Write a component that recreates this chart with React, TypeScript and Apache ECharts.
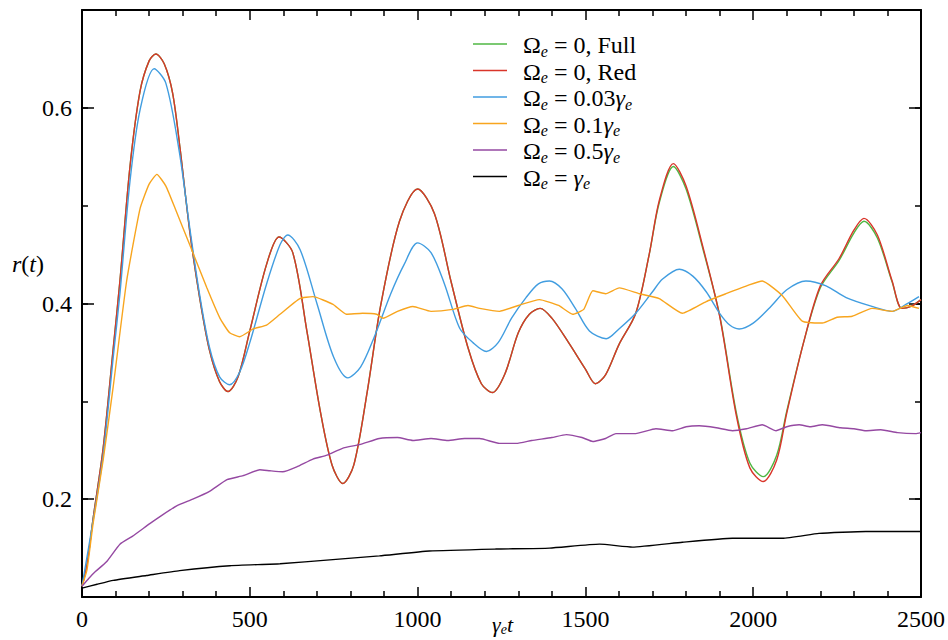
import React, { useEffect, useRef } from "react";
import * as echarts from "echarts";

// time grids and values (gamma_e t, r(t))
const tCoh = [0,15,33,63,93,113,143,173,200,220,245,270,292,321,351,380,410,435,465,500,550,587,628,670,710,745,777,810,850,890,946,1000,1050,1100,1150,1190,1223,1260,1300,1333,1365,1400,1450,1500,1530,1560,1600,1650,1690,1720,1762,1800,1850,1900,1950,1990,2030,2070,2100,2150,2200,2256,2300,2330,2370,2414,2443,2470,2500];
const fullV = [0.111,0.133,0.18,0.252,0.354,0.423,0.54,0.617,0.648,0.655,0.645,0.615,0.559,0.474,0.405,0.352,0.32,0.31,0.325,0.372,0.44,0.468,0.452,0.372,0.29,0.235,0.216,0.235,0.31,0.398,0.484,0.517,0.492,0.422,0.355,0.318,0.309,0.328,0.37,0.389,0.395,0.385,0.36,0.333,0.318,0.327,0.358,0.39,0.45,0.503,0.540,0.517,0.456,0.388,0.288,0.237,0.223,0.245,0.29,0.36,0.416,0.444,0.472,0.484,0.467,0.422,0.395,0.397,0.404];
const redV = [0.111,0.133,0.18,0.252,0.354,0.423,0.54,0.617,0.648,0.655,0.645,0.615,0.559,0.474,0.405,0.352,0.32,0.31,0.325,0.372,0.44,0.468,0.452,0.372,0.29,0.235,0.216,0.235,0.31,0.398,0.484,0.517,0.492,0.422,0.355,0.318,0.309,0.328,0.37,0.389,0.395,0.385,0.36,0.333,0.318,0.327,0.358,0.39,0.45,0.505,0.543,0.52,0.458,0.387,0.285,0.232,0.218,0.24,0.288,0.36,0.418,0.446,0.475,0.487,0.47,0.423,0.395,0.397,0.404];

const blueT = [0,33,63,93,113,143,173,215,250,290,320,350,380,410,440,470,500,550,590,613,650,700,750,792,830,870,920,960,1000,1040,1080,1125,1165,1205,1240,1280,1323,1360,1393,1430,1470,1512,1562,1600,1650,1700,1730,1780,1820,1860,1900,1930,1958,2000,2050,2100,2157,2217,2277,2354,2414,2455,2494];
const blueV = [0.111,0.178,0.245,0.345,0.41,0.525,0.598,0.640,0.625,0.555,0.48,0.41,0.355,0.325,0.317,0.33,0.36,0.42,0.46,0.470,0.455,0.40,0.345,0.324,0.335,0.365,0.41,0.44,0.462,0.452,0.42,0.375,0.36,0.351,0.36,0.385,0.406,0.42,0.423,0.415,0.395,0.372,0.364,0.374,0.39,0.412,0.425,0.435,0.428,0.412,0.39,0.378,0.374,0.38,0.396,0.414,0.423,0.418,0.406,0.397,0.392,0.399,0.407];

const orangeT = [0,15,33,63,93,133,173,200,223,250,280,321,372,411,440,470,510,550,590,649,688,748,788,836,878,897,940,986,1040,1105,1150,1185,1244,1300,1363,1420,1462,1495,1522,1560,1601,1661,1720,1789,1860,1919,1988,2027,2087,2146,2206,2250,2295,2354,2414,2460,2494];
const orangeV = [0.111,0.128,0.175,0.24,0.315,0.423,0.497,0.522,0.532,0.52,0.495,0.46,0.416,0.385,0.37,0.366,0.374,0.378,0.389,0.405,0.407,0.399,0.389,0.39,0.389,0.385,0.392,0.397,0.392,0.394,0.398,0.395,0.392,0.398,0.404,0.398,0.389,0.394,0.413,0.41,0.416,0.41,0.405,0.39,0.402,0.41,0.419,0.423,0.408,0.382,0.38,0.386,0.387,0.395,0.392,0.398,0.395];

const purpleT = [0,20,40,73,113,150,202,240,281,330,380,432,480,530,560,598,640,688,730,776,830,886,940,986,1040,1090,1140,1185,1244,1294,1340,1400,1443,1490,1522,1560,1591,1650,1710,1760,1800,1839,1890,1938,1980,2027,2068,2100,2137,2170,2206,2260,2300,2336,2380,2430,2484,2500];
const purpleV = [0.111,0.119,0.126,0.136,0.154,0.162,0.175,0.184,0.193,0.2,0.208,0.22,0.224,0.23,0.229,0.228,0.233,0.241,0.245,0.252,0.256,0.262,0.263,0.26,0.262,0.26,0.262,0.262,0.257,0.257,0.26,0.263,0.266,0.263,0.259,0.262,0.267,0.267,0.272,0.27,0.274,0.275,0.273,0.27,0.272,0.276,0.27,0.274,0.276,0.274,0.276,0.273,0.272,0.27,0.271,0.268,0.267,0.268];

const blackT = [0,45,93,192,291,441,590,738,886,1035,1234,1393,1542,1640,1789,1938,2087,2196,2336,2484,2500];
const blackV = [0.109,0.113,0.117,0.122,0.127,0.132,0.134,0.138,0.142,0.147,0.149,0.15,0.154,0.151,0.156,0.16,0.16,0.165,0.167,0.167,0.167];

const seriesNames = ["full", "red", "w003", "w01", "w05", "w1"];
const legendLabels: Record<string, string> = {
  full: "{sp| }{t|Ω}{s|e}{t| = 0, Full}",
  red: "{sp| }{t|Ω}{s|e}{t| = 0, Red}",
  w003: "{sp| }{t|Ω}{s|e}{t| = 0.03}{i|γ}{s|e}",
  w01: "{sp| }{t|Ω}{s|e}{t| = 0.1}{i|γ}{s|e}",
  w05: "{sp| }{t|Ω}{s|e}{t| = 0.5}{i|γ}{s|e}",
  w1: "{sp| }{t|Ω}{s|e}{t| = }{i|γ}{s|e}",
};
const colors = ["#4fb743", "#d9352a", "#419de0", "#f8a51e", "#9549a2", "#000000"];
const xTicks = { min: 0, max: 2500, interval: 500 };
const yMajor = [0.2, 0.4, 0.6];

const FONT = "'Liberation Serif', 'DejaVu Serif', serif";

function pairs(t: number[], v: number[]) {
  return t.map((x, i) => [x, v[i]]);
}

export default function App() {
  const ref = useRef<HTMLDivElement>(null);
  useEffect(() => {
    if (!ref.current) return;
    const chart = echarts.init(ref.current, null, { renderer: "svg" });
    const axisLine = { show: true, lineStyle: { color: "#000", width: 2 } };
    const yBase = { type: "value", min: 0.1, max: 0.7, splitLine: { show: false } };
    const data = [
      pairs(tCoh, fullV),
      pairs(tCoh, redV),
      pairs(blueT, blueV),
      pairs(orangeT, orangeV),
      pairs(purpleT, purpleV),
      pairs(blackT, blackV),
    ];
    const rich = {
      sp: { width: 11 },
      t: { fontSize: 24, fontFamily: FONT, color: "#000", lineHeight: 22, verticalAlign: "top" },
      i: { fontSize: 24, fontFamily: FONT, fontStyle: "italic", color: "#000", lineHeight: 22, verticalAlign: "top" },
      s: { fontSize: 16, fontFamily: FONT, fontStyle: "italic", color: "#000", lineHeight: 14, padding: [10, 0, 0, 0], verticalAlign: "top" },
    };
    chart.setOption({
      animation: false,
      backgroundColor: "#fff",
      grid: { left: 82, right: 26, top: 10, bottom: 43, containLabel: false },
      legend: {
        orient: "vertical",
        left: 468,
        top: 28,
        itemWidth: 34,
        itemHeight: 1.6,
        itemGap: 0.5,
        icon: "rect",
        data: seriesNames,
        formatter: (n: string) => legendLabels[n],
        textStyle: { rich },
      },
      xAxis: [
        {
          type: "value", position: "bottom", ...xTicks,
          axisLine, splitLine: { show: false },
          axisTick: { inside: true, length: 10, lineStyle: { color: "#000", width: 1.5 } },
          minorTick: { show: true, splitNumber: 5, length: 6, lineStyle: { color: "#000", width: 1.5 } },
          axisLabel: { color: "#000", fontSize: 24, fontFamily: FONT, margin: 10, formatter: (v: number) => String(v) },
        },
        {
          type: "value", position: "top", ...xTicks,
          axisLine, splitLine: { show: false },
          axisTick: { inside: true, length: 10, lineStyle: { color: "#000", width: 1.5 } },
          minorTick: { show: true, splitNumber: 5, length: 6, lineStyle: { color: "#000", width: 1.5 } },
          axisLabel: { show: false },
        },
      ],
      yAxis: [
        {
          ...yBase, position: "left", interval: 0.1,
          axisLine,
          axisTick: { inside: true, length: 6, lineStyle: { color: "#000", width: 1.5 } },
          axisLabel: {
            color: "#000", fontSize: 24, fontFamily: FONT, margin: 10,
            formatter: (v: number) => (Math.round(v * 10) % 2 === 0 ? v.toFixed(1) : ""),
          },
        },
        {
          ...yBase, position: "left",
          axisLine: { show: false },
          axisTick: { inside: true, length: 12, customValues: yMajor, lineStyle: { color: "#000", width: 1.5 } },
          axisLabel: { show: false, customValues: yMajor },
        },
        {
          ...yBase, position: "right", interval: 0.1,
          axisLine,
          axisTick: { inside: true, length: 6, lineStyle: { color: "#000", width: 1.5 } },
          axisLabel: { show: false },
        },
        {
          ...yBase, position: "right",
          axisLine: { show: false },
          axisTick: { inside: true, length: 12, customValues: yMajor, lineStyle: { color: "#000", width: 1.5 } },
          axisLabel: { show: false, customValues: yMajor },
        },
      ],
      series: seriesNames.map((n, k) => ({
        name: n,
        type: "line",
        xAxisIndex: 0,
        yAxisIndex: 0,
        data: data[k],
        showSymbol: false,
        symbol: "none",
        smooth: k <= 2 ? 0.3 : 0.15,
        color: colors[k],
        lineStyle: { width: 1.4, color: colors[k] },
        z: 2 + k,
      })),
      graphic: [
        {
          type: "text",
          left: 12,
          top: 252,
          style: {
            text: "{i|r}{u|(}{i|t}{u|)}",
            rich: {
              i: { fontSize: 24, fontFamily: FONT, fontStyle: "italic", fill: "#000" },
              u: { fontSize: 24, fontFamily: FONT, fill: "#000" },
            },
          },
        },
        {
          type: "text",
          left: 492,
          top: 613,
          style: {
            text: "{i|γ}{s|e}{i|t}",
            rich: {
              i: { fontSize: 22, fontFamily: FONT, fontStyle: "italic", fill: "#000", lineHeight: 20, verticalAlign: "top" },
              s: { fontSize: 14, fontFamily: FONT, fontStyle: "italic", fill: "#000", lineHeight: 13, padding: [9, 0, 0, 0], verticalAlign: "top" },
            },
          },
        },
      ],
    });
    return () => chart.dispose();
  }, []);
  return (
    <div
      ref={ref}
      style={{ position: "fixed", left: 0, top: 0, width: 948, height: 640, background: "#fff" }}
    />
  );
}
